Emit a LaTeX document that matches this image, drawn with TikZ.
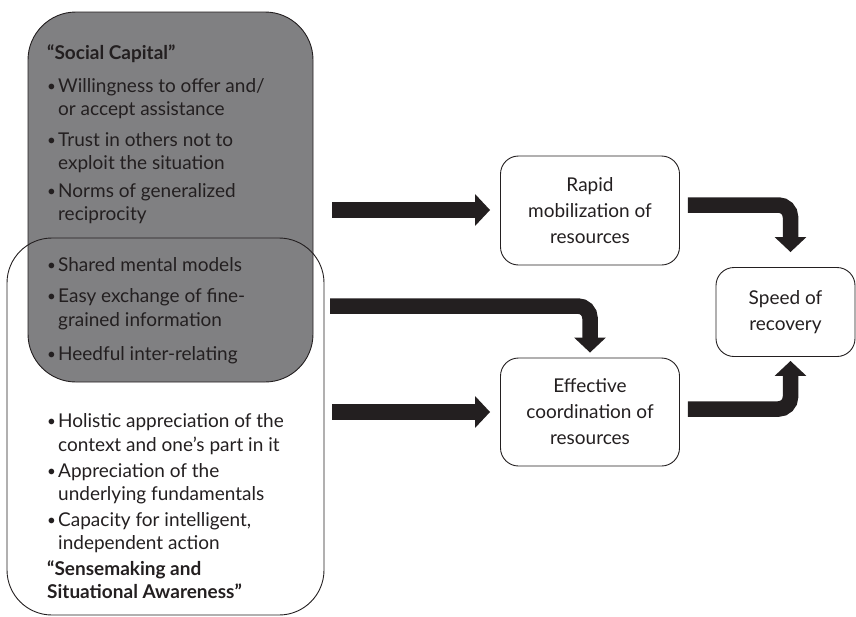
\documentclass[tikz,border=0pt]{standalone}
\usepackage{fontspec}
\setmainfont{Lato}
\usetikzlibrary{arrows.meta,calc}
\definecolor{ink}{RGB}{35,31,32}
\definecolor{capgray}{RGB}{128,128,130}
\newcommand{\bul}{\makebox[11pt][l]{\raisebox{0.5pt}{\scalebox{0.8}{\textbullet}}}}
\newcommand{\ind}{\hspace*{11pt}}
\begin{document}
\begin{tikzpicture}[x=1pt,y=-1pt,font=\fontsize{19}{26}\selectfont,text=ink]
\useasboundingbox (0,0) rectangle (856,616);
 \tikzstyle{capbox}=[draw=ink,line width=0.9pt,fill=capgray,rounded corners=48pt,inner sep=0pt]
 \tikzstyle{awarebox}=[draw=ink,line width=0.9pt,rounded corners=45pt,inner sep=0pt]
 \tikzstyle{box}=[draw=ink,line width=0.9pt,rounded corners=18pt,align=center,inner sep=0pt]
 \tikzstyle{line}=[anchor=base west,inner sep=0pt]
 \tikzstyle{fat}=[draw=ink,line width=15.5pt,rounded corners=12pt,-{Triangle[width=31pt,length=15pt]}]
    \node (capital)[capbox,minimum width=285pt,minimum height=370pt] at (170.5,197) {};
    \node (aware)[awarebox,minimum width=317pt,minimum height=377pt] at (165.5,426.5) {};
    \node (rapid)[box,minimum width=179pt,minimum height=109pt] at (590,210.5) {Rapid\\mobilization of\\resources};
    \node (effective)[box,minimum width=179pt,minimum height=108pt] at (590,412) {Effective\\coordination of\\resources};
    \node (speed)[box,minimum width=139pt,minimum height=89pt] at (785.5,312) {Speed of\\recovery};
\foreach \n/\y/\t in {1/59/{\textbf{“Social Capital”}},
    2/92/{\bul Willingness to offer and/},3/115.5/{\ind or accept assistance},
    4/146/{\bul Trust in others not to},5/169.5/{\ind exploit the situation},
    6/197/{\bul Norms of generalized},7/220.5/{\ind reciprocity},
    8/271/{\bul Shared mental models},
    9/302/{\bul Easy exchange of fine-},10/326/{\ind grained information},
    11/360/{\bul Heedful inter-relating},
    12/427/{\bul Holistic appreciation of the},13/451/{\ind context and one’s part in it},
    14/477/{\bul Appreciation of the},15/500/{\ind underlying fundamentals},
    16/526/{\bul Capacity for intelligent,},17/549/{\ind independent action},
    18/575/{\textbf{“Sensemaking and}},19/598/{\textbf{Situational Awareness”}}}
  \node (l\n)[line] at (47,\y) {\t};
\coordinate (in1) at (332,210);
\coordinate (in2) at (330,306);
\coordinate (in3) at (332,412);
\coordinate (out1) at ($(rapid.east)+(8,-5.5)$);
\coordinate (out2) at ($(effective.east)+(8,-3)$);
\draw[fat,shorten >=10pt] (in1) -- (in1 -| rapid.west);
\draw[fat,shorten >=5pt] (in2) -| (effective.north);
\draw[fat,shorten >=10pt] (in3) -- (in3 -| effective.west);
\draw[fat,shorten >=15pt] (out1) -| ($(speed.north)+(5,0)$);
\draw[fat,shorten >=4pt] (out2) -| ($(speed.south)+(5,0)$);
\end{tikzpicture}
\end{document}
